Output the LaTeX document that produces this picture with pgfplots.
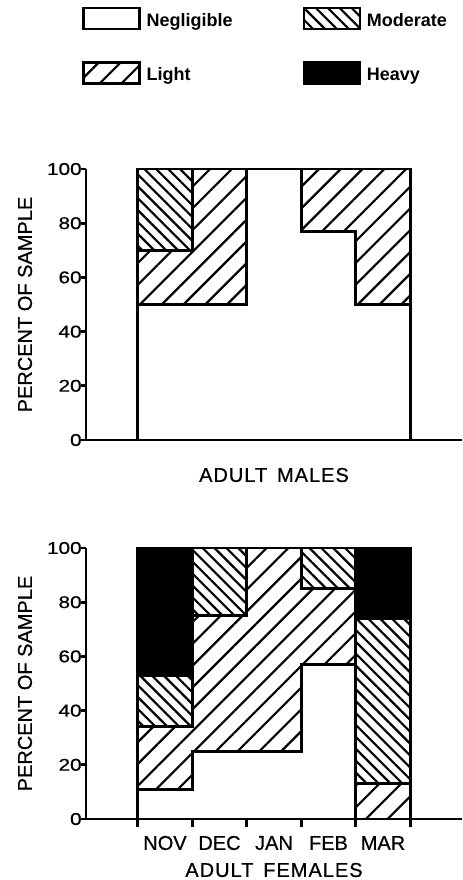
\documentclass[border=0pt]{standalone}
\usepackage{fontspec}
\setmainfont{Liberation Sans}
\newfontfamily\tickfont[FakeStretch=1.22,FakeBold=0.6]{Liberation Sans}
\newfontfamily\labfont[LetterSpace=5,WordSpace=1.5,FakeBold=0.6]{Liberation Sans}
\newfontfamily\txtfont[FakeBold=0.6]{Liberation Sans}
\usepackage{pgfplots}
\pgfplotsset{compat=1.18}
\usetikzlibrary{patterns.meta}

\tikzset{
  lightpat/.style={pattern={Lines[angle=45,distance=7.7pt,line width=1.1pt]}},
  modpat/.style={pattern={Lines[angle=-45,distance=4.2pt,line width=1.1pt]}},
}

\pgfplotsset{
  seg/.style={const plot mark left, draw=black, line width=1.4pt, mark=none},
  panel/.style={
    scale only axis, width=188pt, height=135.5pt,
    xmin=-0.45, xmax=6.45, ymin=0, ymax=100,
    axis lines*=left, axis line style={line width=1.4pt},
    ytick={0,20,...,100}, tick align=outside,
    major tick length=2.5pt, minor tick length=4pt,
    every tick/.style={black, line width=1.4pt},
    minor xtick={0.5,1.5,...,5.5},
    major x tick style={draw=none},
    yticklabel style={font=\tickfont\fontsize{8.5}{9}\selectfont, anchor=east, inner sep=0pt, xshift=0.5pt},
    /pgf/number format/assume math mode=true,
    ylabel={PERCENT OF SAMPLE},
    every axis y label/.style={at={([xshift=-30.5pt]axis description cs:0,0.5)}, rotate=90, anchor=center, font=\txtfont\fontsize{10}{12}\selectfont},
    stack plots=y, clip=false,
  },
}

\begin{document}
\begin{tikzpicture}
\useasboundingbox (0,0) rectangle (231pt,-440pt);

% ---------- Adult males ----------
\begin{axis}[panel, at={(43pt,-84.5pt)}, anchor=north west,
  xtick=\empty,
  every axis x label/.style={at={([yshift=-17.5pt]axis description cs:0.5,0)}, anchor=center, font=\labfont\fontsize{10}{12}\selectfont},
  xlabel={ADULT MALES},
  legend columns=2, legend cell align=left,
  legend style={draw=none, fill=none, at={(axis description cs:0,1)}, anchor=south west,
    xshift=-2pt, yshift=42pt, inner sep=0pt, column sep=3pt, row sep=15.5pt,
    font=\bfseries\fontsize{9}{10}\selectfont, nodes={inner sep=0pt}},
  legend image code/.code={\draw[line width=1.1pt,#1] (0pt,-4pt) rectangle (28pt,6.5pt);},
]
% Negligible
\addplot[seg, fill=white, forget plot] coordinates {(0.5,50) (1.5,50) (2.5,100) (3.5,77) (4.5,50) (5.5,50)} \closedcycle;
% Light
\addplot[seg, lightpat, forget plot] coordinates {(0.5,20) (1.5,50) (2.5,0) (3.5,23) (4.5,50) (5.5,50)} \closedcycle;
% Moderate
\addplot[seg, modpat, forget plot] coordinates {(0.5,30) (1.5,0) (2.5,0) (3.5,0) (4.5,0) (5.5,0)} \closedcycle;

\addlegendimage{fill=white}\addlegendentry{\makebox[75pt][l]{Negligible}}
\addlegendimage{modpat}\addlegendentry{Moderate}
\addlegendimage{lightpat}\addlegendentry{\makebox[75pt][l]{Light}}
\addlegendimage{fill=black}\addlegendentry{Heavy}
\end{axis}

% ---------- Adult females ----------
\begin{axis}[panel, at={(43pt,-274pt)}, anchor=north west,
  xtick={1,2,3,4,5}, xticklabels={NOV,DEC,JAN,FEB,MAR},
  xticklabel style={font=\txtfont\fontsize{10}{12}\selectfont, anchor=center, yshift=-9.5pt},
  every axis x label/.style={at={([yshift=-25.5pt]axis description cs:0.5,0)}, anchor=center, font=\labfont\fontsize{10}{12}\selectfont},
  xlabel={ADULT FEMALES},
]
% Negligible
\addplot[seg, fill=white] coordinates {(0.5,11) (1.5,25) (2.5,25) (3.5,57) (4.5,0) (5.5,0)} \closedcycle;
% Light
\addplot[seg, lightpat] coordinates {(0.5,23) (1.5,50) (2.5,75) (3.5,28) (4.5,13) (5.5,13)} \closedcycle;
% Moderate
\addplot[seg, modpat] coordinates {(0.5,19) (1.5,25) (2.5,0) (3.5,15) (4.5,61) (5.5,61)} \closedcycle;
% Heavy
\addplot[seg, fill=black] coordinates {(0.5,47) (1.5,0) (2.5,0) (3.5,0) (4.5,26) (5.5,26)} \closedcycle;
\end{axis}
\end{tikzpicture}
\end{document}
